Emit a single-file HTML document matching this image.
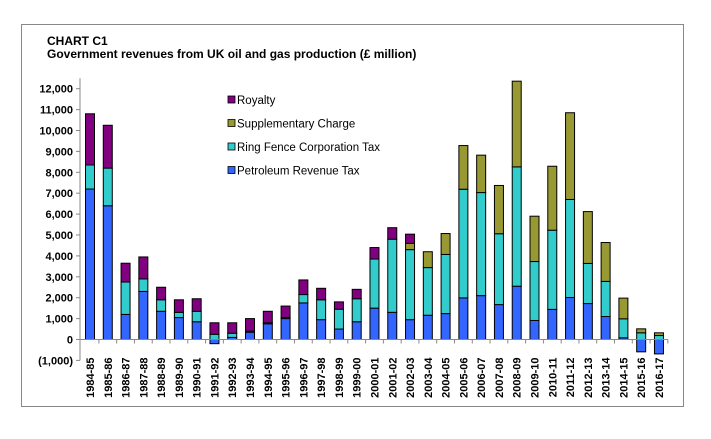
<!DOCTYPE html>
<html><head><meta charset="utf-8"><style>
body{margin:0;background:#fff;font-family:"Liberation Sans",sans-serif}
svg text{font-family:"Liberation Sans",sans-serif}
</style></head><body>
<svg width="711" height="434" viewBox="0 0 711 434">
<rect x="21.5" y="24.5" width="662" height="382" fill="#fff" stroke="#888"/>
<text x="47" y="45" font-size="12" font-weight="bold">CHART C1</text>
<text x="47" y="58" font-size="12" font-weight="bold">Government revenues from UK oil and gas production (£ million)</text>
<g id="plot"></g>
<g id="legend" font-size="11.5"></g>
</svg>
<script>
const categories=["1984-85","1985-86","1986-87","1987-88","1988-89","1989-90","1990-91","1991-92","1992-93","1993-94","1994-95","1995-96","1996-97","1997-98","1998-99","1999-00","2000-01","2001-02","2002-03","2003-04","2004-05","2005-06","2006-07","2007-08","2008-09","2009-10","2010-11","2011-12","2012-13","2013-14","2014-15","2015-16","2016-17"];
const prt=[7200,6400,1200,2300,1350,1050,850,-200,100,350,750,1000,1750,950,500,850,1500,1300,950,1160,1240,1990,2100,1670,2550,910,1440,2010,1720,1100,80,-590,-690];
const rfct=[1150,1800,1550,600,550,250,500,250,200,50,50,50,400,950,950,1100,2350,3500,3350,2280,2830,5200,4930,3390,5710,2820,3790,4690,1920,1680,910,320,190];
const sc=[0,0,0,0,0,0,0,0,0,0,0,0,0,0,0,0,0,0,300,760,1000,2090,1790,2310,4100,2170,3060,4150,2480,1860,990,190,130];
const royalty=[2450,2050,900,1050,600,600,600,550,500,600,550,550,700,550,350,450,550,550,440,0,0,0,0,0,0,0,0,0,0,0,0,0,0];
const yTicks=[-1000,0,1000,2000,3000,4000,5000,6000,7000,8000,9000,10000,11000,12000];
const series=[["Petroleum Revenue Tax",prt,"#3366ff"],["Ring Fence Corporation Tax",rfct,"#33cccc"],["Supplementary Charge",sc,"#999933"],["Royalty",royalty,"#800080"]];
const NS="http://www.w3.org/2000/svg";
const y0=339.5,pxPer=20.9/1000,x0=80,step=17.78,bw=9;
const Y=v=>y0-v*pxPer;
const X=i=>x0+10+i*step;
const plot=document.getElementById('plot');
function mk(t,a,p){const e=document.createElementNS(NS,t);for(const k in a)e.setAttribute(k,a[k]);(p||plot).appendChild(e);return e;}
let ax=mk('line',{x1:x0,x2:x0,y1:Y(12500),y2:Y(-1000),stroke:'#888'});


yTicks.forEach(v=>{
 mk('line',{x1:x0-4,x2:x0,y1:Y(v),y2:Y(v),stroke:'#888'});
 const t=mk('text',{x:x0-7,y:Y(v)+4,'text-anchor':'end','font-size':11,'font-weight':'bold'});
 t.textContent=v<0?'('+Math.abs(v).toLocaleString('en-US')+')':v.toLocaleString('en-US');
 
 
});
categories.forEach((c,i)=>{
 let pos=0,neg=0;
 series.forEach(([n,arr,col])=>{
  const v=arr[i]; if(!v) return;
  let a,b;
  if(v>=0){a=pos;b=pos+v;pos=b;}else{a=neg;b=neg+v;neg=b;}
  const r=mk('rect',{x:X(i)-bw/2,y:Math.min(Y(a),Y(b)),width:bw,height:Math.abs(Y(a)-Y(b)),fill:col,stroke:'#000','stroke-width':1});
  
  
 });
 mk('line',{x1:X(i)+step/2,x2:X(i)+step/2,y1:y0,y2:y0+4,stroke:'#888'});
 const t=mk('text',{transform:`translate(${X(i)+4},${y0+18}) rotate(-90)`,'text-anchor':'end','font-size':11,'font-weight':'bold'});
 t.textContent=c;
 
 
});
let zl=mk('line',{x1:x0,x2:X(32)+step/2,y1:y0,y2:y0,stroke:'#888'});


const lg=document.getElementById('legend');
[["Royalty","#800080"],["Supplementary Charge","#999933"],["Ring Fence Corporation Tax","#33cccc"],["Petroleum Revenue Tax","#3366ff"]].forEach(([n,col],k)=>{
 const yy=104+k*23.5;
 mk('rect',{x:228,y:yy-8,width:7,height:7,fill:col,stroke:'#000','stroke-width':0.8},lg);
 const t=mk('text',{x:237,y:yy,'font-size':11.5},lg);
 t.textContent=n;
 
 
});
</script>
</body></html>
